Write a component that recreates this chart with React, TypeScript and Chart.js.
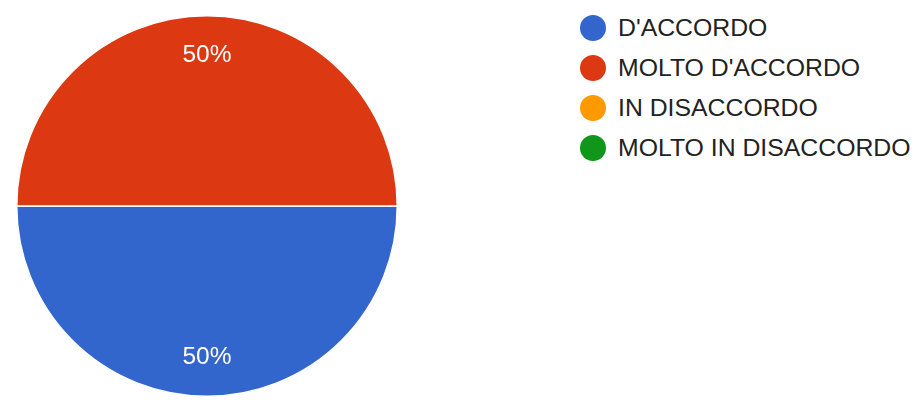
import React, { useEffect, useRef } from "react";
import { Chart, registerables } from "chart.js";

Chart.register(...registerables);

const categories = ["D'ACCORDO", "MOLTO D'ACCORDO", "IN DISACCORDO", "MOLTO IN DISACCORDO"];
const values = [50, 50, 0, 0];
const colors = ["#3366CC", "#DC3912", "#FF9900", "#109618"];

const FONT = "'Liberation Sans', Arial, sans-serif";

const labelPlugin = {
  id: "sliceLabels",
  afterDatasetsDraw(chart: any) {
    const ctx = chart.ctx;
    const meta = chart.getDatasetMeta(0);
    const total = values.reduce((a, b) => a + b, 0);
    ctx.save();
    ctx.fillStyle = "#ffffff";
    ctx.font = "24.5px " + FONT;
    ctx.textAlign = "center";
    ctx.textBaseline = "middle";
    meta.data.forEach((arc: any, i: number) => {
      const v = values[i];
      if (!v) return;
      const p = arc.getProps(["x", "y", "startAngle", "endAngle", "outerRadius"], true);
      const mid = (p.startAngle + p.endAngle) / 2;
      const r = p.outerRadius * 0.795;
      ctx.fillText(Math.round((v / total) * 100) + "%", p.x + Math.cos(mid) * r, p.y + Math.sin(mid) * r);
    });
    ctx.restore();
  },
};

export default function App() {
  const ref = useRef<HTMLCanvasElement | null>(null);
  useEffect(() => {
    if (!ref.current) return;
    const chart = new Chart(ref.current, {
      type: "pie",
      data: {
        labels: categories,
        datasets: [
          {
            data: values,
            backgroundColor: colors,
            borderColor: "#ffffff",
            borderWidth: 1.5,
          },
        ],
      },
      options: {
        animation: false,
        responsive: false,
        rotation: 90,
        layout: { padding: { left: 16, right: 16, top: 15, bottom: 15 } },
        plugins: { legend: { display: false }, tooltip: { enabled: false } },
      },
      plugins: [labelPlugin],
    });
    return () => chart.destroy();
  }, []);

  return (
    <div style={{ position: "fixed", left: 0, top: 0, width: 916, height: 408, background: "#fff" }}>
      <canvas ref={ref} width={414} height={412} style={{ position: "absolute", left: 0, top: 0, width: 414, height: 412 }} />
      {categories.map((c, i) => (
        <div
          key={c}
          style={{
            position: "absolute",
            left: 580,
            top: 28 + i * 40 - 13,
            height: 26,
            display: "flex",
            alignItems: "center",
            fontFamily: FONT,
            fontSize: 24.8,
            color: "#222222",
            whiteSpace: "nowrap",
          }}
        >
          <span
            style={{
              display: "inline-block",
              flex: "none",
              width: 26,
              height: 26,
              borderRadius: "50%",
              background: colors[i],
              marginRight: 12,
            }}
          />
          <span style={{ lineHeight: "26px" }}>{c}</span>
        </div>
      ))}
    </div>
  );
}
